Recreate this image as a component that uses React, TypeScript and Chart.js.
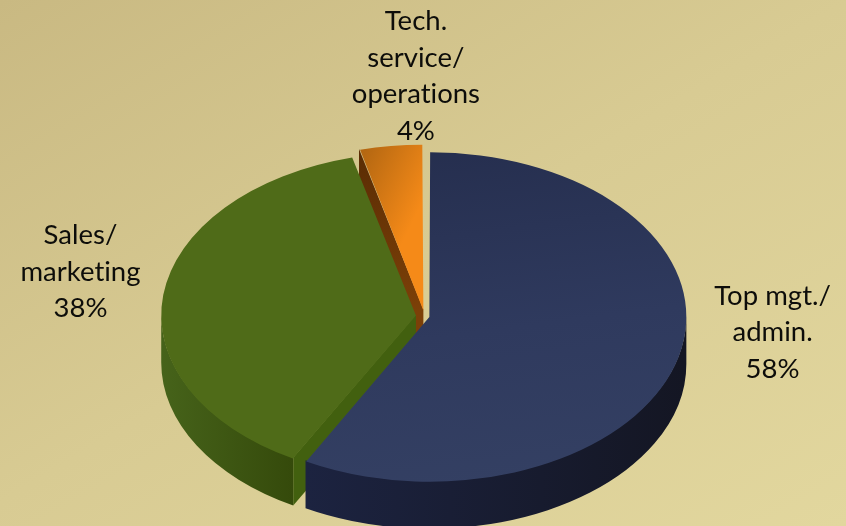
import React, { useEffect, useRef } from "react";
import { Chart, registerables } from "chart.js";

Chart.register(...registerables);

// Share of respondents by job function
const categories = ["Top mgt./\nadmin.", "Sales/\nmarketing", "Tech.\nservice/\noperations"];
const shares = [58, 38, 4];
const explode = [19.5, 33.6, 35];

// Tilted-disc projection, in page pixels
const DISC = { cx: 424.5, cy: 316.2, rx: 252, ry: 161.5, depth: 47 };
const LABEL_FONT = "27.5px Lato, 'Open Sans', sans-serif";
const LABEL_LINE = 36.5;
// Shift of each label from the rim midpoint of its slice
const labelShift = [
  [104, -24],
  [-94, -24],
  [23, -80],
];

type Wall = { outer: [string, string]; cut: string | [string, string] };
const walls: Wall[] = [
  { outer: ["#1c2340", "#141623"], cut: "#1a2038" },
  { outer: ["#46631a", "#354a0b"], cut: "#42600f" },
  { outer: ["#5e2f05", "#5e2f05"], cut: ["#5a2c04", "#7c4008"] },
];
const drawOrder = [2, 1, 0];

function arcGeometry(el: any) {
  const offset = (el.options.offset || 0) / 4;
  const span = el.endAngle - el.startAngle;
  const fix = 1 - Math.sin(Math.min(Math.PI, span));
  const mid = (el.startAngle + el.endAngle) / 2;
  return {
    r: el.outerRadius + offset * fix,
    tx: Math.cos(mid) * offset,
    ty: Math.sin(mid) * offset,
    mid,
  };
}

function applyDiscTransform(ctx: CanvasRenderingContext2D, el: any) {
  const base = el.outerRadius;
  ctx.translate(DISC.cx, DISC.cy);
  ctx.scale(DISC.rx / base, DISC.ry / base);
  ctx.translate(-el.x, -el.y);
}

function drawWalls(ctx: CanvasRenderingContext2D, el: any, wall: Wall) {
  const { r, tx, ty } = arcGeometry(el);
  const dz = (DISC.depth * el.outerRadius) / DISC.ry;
  const { x, y, startAngle: a0, endAngle: a1 } = el;
  const seam = 1.5; // tucks each wall under the top face so no gap shows along the edge
  ctx.save();
  ctx.translate(tx, ty);

  // Cut faces running from the hub to the rim; only those turned towards the viewer
  const faces: number[] = [];
  if (Math.cos(a0) < -0.01) faces.push(a0);
  if (Math.cos(a1) > 0.01) faces.push(a1);
  for (const a of faces) {
    const rimX = x + Math.cos(a) * r;
    const rimY = y + Math.sin(a) * r;
    let fill: string | CanvasGradient;
    if (typeof wall.cut === "string") {
      fill = wall.cut;
    } else {
      const g = ctx.createLinearGradient(rimX, rimY, x, y);
      g.addColorStop(0, wall.cut[0]);
      g.addColorStop(1, wall.cut[1]);
      fill = g;
    }
    ctx.fillStyle = fill;
    ctx.beginPath();
    ctx.moveTo(x, y - seam);
    ctx.lineTo(rimX, rimY - seam);
    ctx.lineTo(rimX, rimY + dz);
    ctx.lineTo(x, y + dz);
    ctx.closePath();
    ctx.fill();
  }

  // Curved outer wall, front half of the disc only
  const twoPi = Math.PI * 2;
  let s = a0;
  let e = a1;
  while (s < 0) {
    s += twoPi;
    e += twoPi;
  }
  const from = Math.max(s, 0);
  const to = Math.min(e, Math.PI);
  const fromAlt = Math.max(s - twoPi, 0);
  const toAlt = Math.min(e - twoPi, Math.PI);
  const spans: [number, number][] = [];
  if (to > from) spans.push([from, to]);
  if (toAlt > fromAlt) spans.push([fromAlt, toAlt]);
  for (const [p, q] of spans) {
    const xs = [x + Math.cos(p) * r, x + Math.cos(q) * r];
    const g = ctx.createLinearGradient(Math.min(...xs), 0, Math.max(...xs), 0);
    g.addColorStop(0, wall.outer[0]);
    g.addColorStop(1, wall.outer[1]);
    ctx.fillStyle = g;
    ctx.beginPath();
    ctx.arc(x, y - seam, r, p, q);
    ctx.arc(x, y + dz, r, q, p, true);
    ctx.closePath();
    ctx.fill();
  }
  ctx.restore();
}

const backdrop = {
  id: "backdrop",
  beforeDraw(chart: any) {
    const { ctx, width, height } = chart;
    const g = ctx.createLinearGradient(0, 0, 449, 760);
    g.addColorStop(0, "#c9b982");
    g.addColorStop(0.49, "#d8cb93");
    g.addColorStop(1, "#e2d79e");
    ctx.save();
    ctx.fillStyle = g;
    ctx.fillRect(0, 0, width, height);
    ctx.restore();
  },
};

const tiltedPie = {
  id: "tiltedPie",
  beforeDatasetsDraw(chart: any) {
    const { ctx } = chart;
    const arcs = chart.getDatasetMeta(0).data;
    ctx.save();
    applyDiscTransform(ctx, arcs[0]);
    for (const i of drawOrder) {
      drawWalls(ctx, arcs[i], walls[i]);
      arcs[i].draw(ctx);
    }
    ctx.restore();
    return false;
  },
  afterDraw(chart: any) {
    const { ctx } = chart;
    const arcs = chart.getDatasetMeta(0).data;
    ctx.save();
    ctx.font = LABEL_FONT;
    ctx.letterSpacing = "0.01px"; // keeps "ti" from joining into a ligature
    ctx.fillStyle = "#0d0d0a";
    ctx.textAlign = "center";
    ctx.textBaseline = "middle";
    arcs.forEach((el: any, i: number) => {
      const { mid } = arcGeometry(el);
      const lx = DISC.cx + Math.cos(mid) * DISC.rx + labelShift[i][0];
      const ly = DISC.cy + Math.sin(mid) * DISC.ry + labelShift[i][1];
      const lines = [...categories[i].split("\n"), `${shares[i]}%`];
      const top = ly - ((lines.length - 1) * LABEL_LINE) / 2;
      lines.forEach((t, k) => ctx.fillText(t, lx, top + k * LABEL_LINE));
    });
    ctx.restore();
  },
};

function topFill(c: any) {
  const { ctx, chartArea } = c.chart;
  if (!chartArea) return "#333";
  const cx = (chartArea.left + chartArea.right) / 2;
  const cy = (chartArea.top + chartArea.bottom) / 2;
  const R = Math.min(chartArea.width, chartArea.height) / 2;
  if (c.dataIndex === 0) {
    const g = ctx.createLinearGradient(cx - R * 0.1, cy - R, cx + R * 0.3, cy + R);
    g.addColorStop(0, "#252e4e");
    g.addColorStop(0.55, "#2f3a5e");
    g.addColorStop(1, "#344063");
    return g;
  }
  if (c.dataIndex === 1) return "#4f6b18";
  const g = ctx.createLinearGradient(cx - R * 0.27, cy - R, cx + R * 0.08, cy - R * 0.89);
  g.addColorStop(0, "#a55f10");
  g.addColorStop(1, "#f58a18");
  return g;
}

export default function App() {
  const ref = useRef<HTMLCanvasElement>(null);
  useEffect(() => {
    const chart = new Chart(ref.current as HTMLCanvasElement, {
      type: "pie",
      data: {
        labels: categories.map((c) => c.replace(/\n/g, " ")),
        datasets: [
          {
            data: shares,
            offset: explode,
            borderWidth: 0,
            clip: false,
            backgroundColor: topFill,
          } as any,
        ],
      },
      options: {
        responsive: false,
        animation: false,
        layout: { padding: 0 },
        plugins: { legend: { display: false }, tooltip: { enabled: false } },
      },
      plugins: [backdrop, tiltedPie],
    });
    return () => chart.destroy();
  }, []);
  return (
    <canvas
      ref={ref}
      width={846}
      height={526}
      style={{ position: "absolute", left: 0, top: 0, display: "block" }}
    />
  );
}
